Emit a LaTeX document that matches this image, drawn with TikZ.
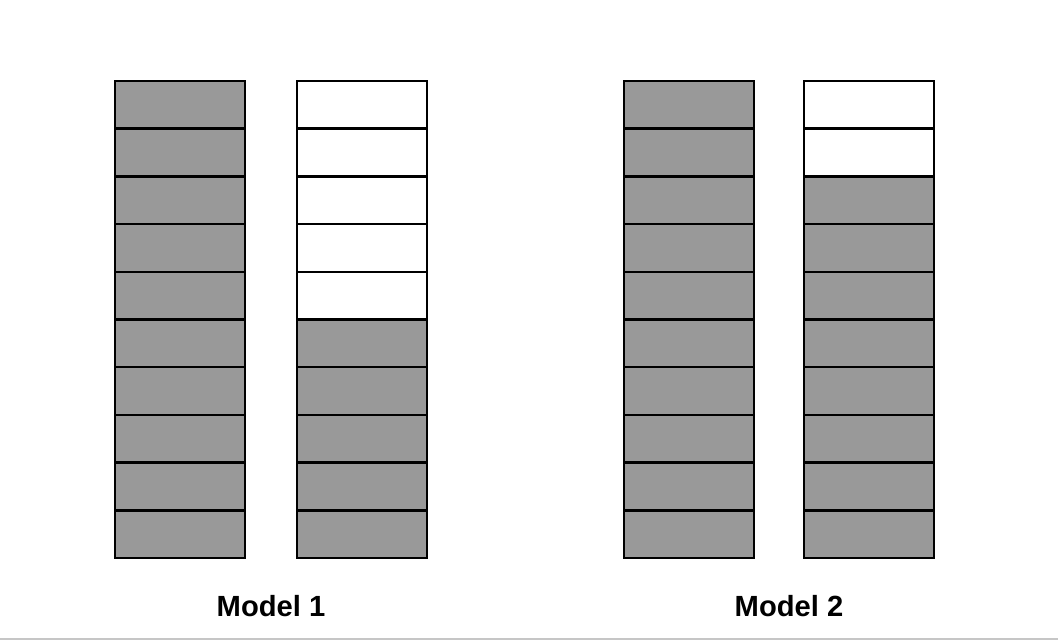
\documentclass[tikz,border=0pt]{standalone}
\usepackage{fontspec}
\setmainfont{Liberation Sans}
\usetikzlibrary{positioning}
\definecolor{cellgray}{HTML}{999999}

\begin{document}
\begin{tikzpicture}[
    cell/.style={rectangle, minimum width=2.6cm, minimum height=0.954cm, inner sep=0pt, outer sep=0pt},
    usedcell/.style={cell, fill=cellgray},
    freecell/.style={cell, fill=white},
    cellborder/.style={draw, line width=1.4pt},
    modeltitle/.style={font=\bfseries\fontsize{16.6}{20}\selectfont}
]
\useasboundingbox (0,0) rectangle (21.16,12.88);

% Columns: name / left edge / number of free (white) cells at the top
\foreach \col/\x/\free in {a/2.3/0, b/5.94/5, c/12.48/0, d/16.08/2} {
  \foreach \i in {1,...,10} {
    \ifnum\i>\free
      \node[usedcell] (\col\i) at ({\x+1.3}, {11.26-(\i-0.5)*0.954}) {};
    \else
      \node[freecell] (\col\i) at ({\x+1.3}, {11.26-(\i-0.5)*0.954}) {};
    \fi
  }
}
% Borders on top of all fills
\foreach \col in {a,b,c,d} {
  \foreach \i in {1,...,10}
    \draw[cellborder] (\col\i.south west) rectangle (\col\i.north east);
}

% Titles
\node[modeltitle] (model1) at (5.42,0.76) {Model 1};
\node[modeltitle] (model2) at (15.78,0.76) {Model 2};

% Bottom rule
\draw[gray!45, line width=1.2pt] (0,0.1) -- (21.16,0.1);
\end{tikzpicture}
\end{document}
